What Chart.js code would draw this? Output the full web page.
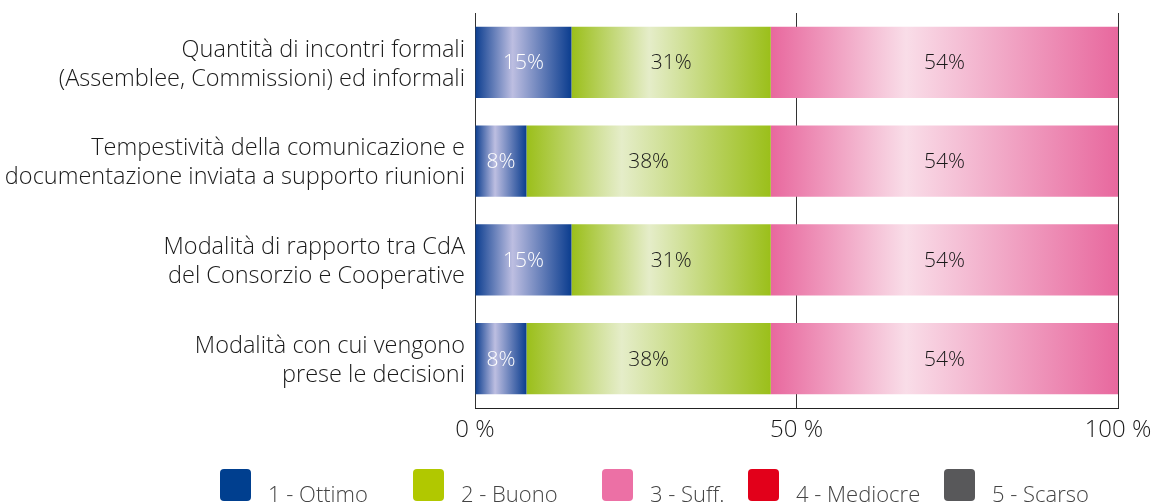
<!DOCTYPE html>
<html>
<head>
<meta charset="utf-8">
<script src="https://cdn.jsdelivr.net/npm/chart.js@4/dist/chart.umd.min.js"></script>
<style>
  html, body { margin: 0; padding: 0; background: #fff; }
  #wrap { width: 1154px; height: 504px; position: relative; }
</style>
</head>
<body>
<div id="wrap"><canvas id="c" width="1154" height="504"></canvas></div>
<script>
// Survey items (two-line labels)
const categories = [
  ['Quantità di incontri formali', '(Assemblee, Commissioni) ed informali'],
  ['Tempestività della comunicazione e', 'documentazione inviata a supporto riunioni'],
  ['Modalità di rapporto tra CdA', 'del Consorzio e Cooperative'],
  ['Modalità con cui vengono', 'prese le decisioni']
];

// Share of answers per rating (%)
const ottimo   = [15, 8, 15, 8];
const buono    = [31, 38, 31, 38];
const suff     = [54, 54, 54, 54];
const mediocre = [0, 0, 0, 0];
const scarso   = [0, 0, 0, 0];

const seriesNames = ['1 - Ottimo', '2 - Buono', '3 - Suff.', '4 - Mediocre', '5 - Scarso'];
const xTicks = [0, 50, 100];

// Solid swatch colours and [edge, centre] shading for the bars
const swatch = ['#003f8f', '#b1c800', '#ec70a5', '#e2001a', '#58585a'];
const shade = [
  ['#0b3d8f', '#bdbee1'],
  ['#9bbf1a', '#e5edc9'],
  ['#e8689e', '#f9dde8'],
  ['#e2001a', '#f4a0a8'],
  ['#58585a', '#c8c8c8']
];
const labelInk = ['#ffffff', '#1a1a1a', '#1a1a1a', '#ffffff', '#ffffff'];

const FONT = '"Open Sans", "Helvetica Neue", "Liberation Sans", sans-serif';

function segGradient(ctx, dsIndex) {
  const chart = ctx.chart;
  const area = chart.chartArea;
  if (!area || ctx.type !== 'data') return swatch[dsIndex];
  const xs = chart.scales.x;
  let start = 0;
  for (let d = 0; d < dsIndex; d++) start += chart.data.datasets[d].data[ctx.dataIndex];
  const end = start + chart.data.datasets[dsIndex].data[ctx.dataIndex];
  const x0 = xs.getPixelForValue(start);
  const x1 = xs.getPixelForValue(end);
  if (x1 - x0 < 1) return swatch[dsIndex];
  const g = chart.ctx.createLinearGradient(x0, 0, x1, 0);
  g.addColorStop(0, shade[dsIndex][0]);
  g.addColorStop(0.39, shade[dsIndex][1]);
  g.addColorStop(1, shade[dsIndex][0]);
  return g;
}

const valueSets = [ottimo, buono, suff, mediocre, scarso];
const datasets = valueSets.map((vals, i) => ({
  label: seriesNames[i],
  data: vals,
  backgroundColor: (ctx) => segGradient(ctx, i),
  borderWidth: 0,
  barPercentage: 0.72,
  categoryPercentage: 1.0
}));

// Percent labels centred in each segment
const segmentLabels = {
  id: 'segmentLabels',
  afterDatasetsDraw(chart) {
    const c = chart.ctx;
    c.save();
    c.font = '300 21px ' + FONT;
    c.textAlign = 'center';
    c.textBaseline = 'middle';
    chart.data.datasets.forEach((ds, i) => {
      const meta = chart.getDatasetMeta(i);
      meta.data.forEach((bar, j) => {
        const v = ds.data[j];
        if (!v) return;
        c.fillStyle = labelInk[i];
        c.fillText(v + '%', (bar.x + bar.base) / 2, bar.y + 1);
      });
    });
    c.restore();
  }
};

// Legend row with rounded swatches under the axis
const legendSlots = [220, 413, 602, 748, 944];
const bottomLegend = {
  id: 'bottomLegend',
  afterDraw(chart) {
    const c = chart.ctx;
    c.save();
    c.font = '300 22px ' + FONT;
    c.textBaseline = 'alphabetic';
    c.textAlign = 'left';
    chart.data.datasets.forEach((ds, i) => {
      const x = legendSlots[i];
      c.fillStyle = swatch[i];
      c.beginPath();
      c.roundRect(x, 469, 31, 32, 4);
      c.fill();
      c.fillStyle = '#444444';
      c.fillText(ds.label, x + 48, 502);
    });
    c.restore();
  }
};

new Chart(document.getElementById('c'), {
  type: 'bar',
  data: { labels: categories, datasets },
  plugins: [segmentLabels, bottomLegend],
  options: {
    indexAxis: 'y',
    responsive: false,
    animation: false,
    layout: { padding: { top: 13, right: 36, left: 0, bottom: 0 } },
    plugins: {
      legend: { display: false },
      tooltip: { enabled: false }
    },
    scales: {
      x: {
        stacked: true,
        min: 0,
        max: 100,
        afterBuildTicks(scale) { scale.ticks = xTicks.map(v => ({ value: v })); },
        ticks: {
          callback: (v) => v + ' %',
          color: '#1a1a1a',
          padding: 8,
          maxRotation: 0,
          font: { family: FONT, size: 24, weight: '300' }
        },
        grid: { color: '#333333', lineWidth: 1, drawTicks: false },
        border: { display: true, color: '#222222', width: 1 },
        afterFit(scale) {
          scale.height = 96;
          scale.paddingLeft = 0;
          scale.paddingRight = 0;
        }
      },
      y: {
        stacked: true,
        grid: { display: false, drawTicks: false },
        border: { display: false },
        ticks: {
          color: '#1a1a1a',
          padding: 10,
          labelOffset: 2,
          font: { family: FONT, size: 23.5, weight: '300', lineHeight: 1.23 }
        },
        afterFit(scale) {
          scale.width = 475;
          scale.paddingTop = 0;
          scale.paddingBottom = 0;
        }
      }
    }
  }
});
</script>
</body>
</html>
